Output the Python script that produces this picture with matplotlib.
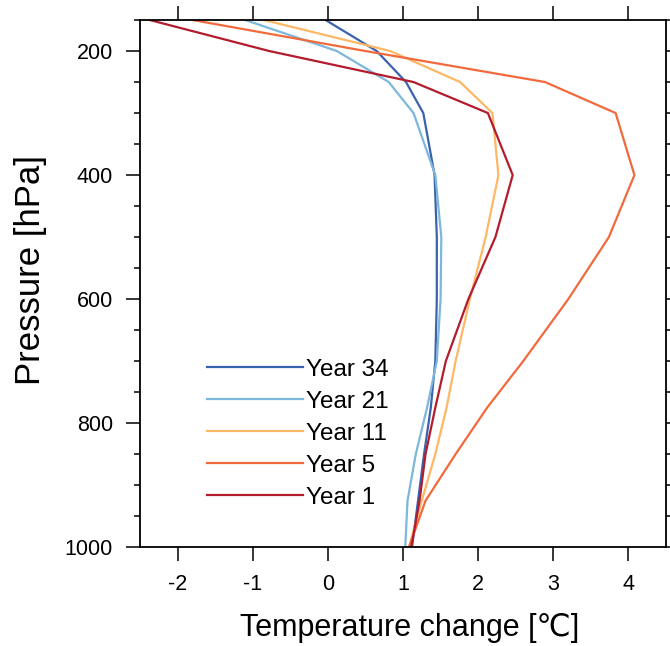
import matplotlib
matplotlib.use("Agg")
import matplotlib.pyplot as plt
from matplotlib.ticker import MultipleLocator

plt.rcParams['font.family'] = ['Liberation Sans', 'DejaVu Sans']
plt.rcParams['axes.unicode_minus'] = False

# pressure levels (hPa) and temperature change profiles (degC)
levels = [1000, 925, 850, 775, 700, 600, 500, 400, 300, 250, 200, 150]
year34 = [1.12, 1.20, 1.28, 1.37, 1.43, 1.45, 1.45, 1.42, 1.27, 1.04, 0.65, -0.03]
year21 = [1.03, 1.06, 1.17, 1.32, 1.45, 1.50, 1.51, 1.43, 1.14, 0.81, 0.12, -1.10]
year11 = [1.08, 1.25, 1.43, 1.58, 1.70, 1.89, 2.10, 2.27, 2.19, 1.76, 0.83, -0.85]
year5 = [1.08, 1.30, 1.70, 2.12, 2.60, 3.20, 3.74, 4.08, 3.83, 2.89, 0.50, -1.80]
year1 = [1.11, 1.22, 1.30, 1.43, 1.57, 1.87, 2.23, 2.46, 2.13, 1.14, -0.78, -2.37]

series = [
    ("Year 34", year34, "#3a62ae"),
    ("Year 21", year21, "#7db7db"),
    ("Year 11", year11, "#fdb865"),
    ("Year 5", year5, "#f26a3c"),
    ("Year 1", year1, "#b31c2c"),
]

fig = plt.figure(figsize=(6.70, 6.46), dpi=100)
ax = fig.add_axes([0.209, 0.153, 0.785, 0.816])

for name, vals, color in series:
    ax.plot(vals, levels, color=color, linewidth=1.6, label=name)

ax.set_xlim(-2.5, 4.5)
ax.set_ylim(1000, 150)
ax.set_xticks([-2, -1, 0, 1, 2, 3, 4])
ax.set_yticks([200, 400, 600, 800, 1000])
ax.yaxis.set_minor_locator(MultipleLocator(50))

ax.tick_params(which='both', direction='out', top=True, right=True,
               labelsize=15.5, width=1.1, pad=9.5)
ax.tick_params(which='major', length=10)
ax.tick_params(which='minor', length=4.5)
for sp in ax.spines.values():
    sp.set_linewidth(1.3)

ax.set_xlabel("Temperature change [\u2103]", fontsize=22)
ax.set_ylabel("Pressure [hPa]", fontsize=25)
ax.xaxis.set_label_coords(0.513, -0.125)
ax.yaxis.set_label_coords(-0.177, 0.526)

ax.legend(loc='upper left', bbox_to_anchor=(0.128, 0.357), frameon=False,
          fontsize=17.5, handlelength=3.95, handletextpad=0.12, labelspacing=0.41,
          borderaxespad=0, borderpad=0)

fig.savefig("out.png", dpi=100)
